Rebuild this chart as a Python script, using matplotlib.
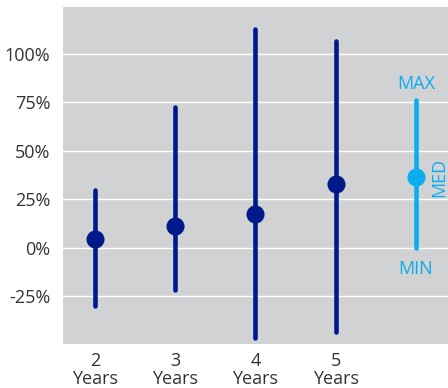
import matplotlib.pyplot as plt

plt.rcParams['font.family'] = ['Open Sans', 'DejaVu Sans']

# Range of returns by holding period (%)
periods = ['2\nYears', '3\nYears', '4\nYears', '5\nYears']
lows = [-30, -21.5, -46.5, -43.5]
highs = [30, 72.5, 112.5, 106.5]
medians = [4.5, 11, 17.5, 33]

# Key item drawn at the right
key_low, key_high, key_med = 0, 76, 36.5

navy = '#001A8C'
light = '#0AAEEF'
grey_bg = '#D1D2D4'
text_col = '#333333'

fig = plt.figure(figsize=(4.48, 3.88), dpi=100)
ax = fig.add_axes([0.1406, 0.1134, 0.8594, 0.8686])
ax.set_facecolor(grey_bg)

xs = list(range(len(periods)))
for x, lo, hi, med in zip(xs, lows, highs, medians):
    ax.plot([x, x], [lo, hi], color=navy, lw=3.3, solid_capstyle='round', zorder=3)
    ax.plot(x, med, 'o', color=navy, ms=12, zorder=4)

kx = len(periods)
ax.plot([kx, kx], [key_low, key_high], color=light, lw=3.3, solid_capstyle='round', zorder=3)
ax.plot(kx, key_med, 'o', color=light, ms=12, zorder=4)
ax.text(kx, key_high + 3.5, 'MAX', color=light, fontsize=13, ha='center', va='bottom')
ax.text(kx, key_low - 6.5, 'MIN', color=light, fontsize=13, ha='center', va='top')
ax.text(kx + 0.29, key_med, 'MED', color=light, fontsize=13, ha='center', va='center',
        rotation=90)

ax.set_xlim(-0.4, 4.4)
ax.set_ylim(-49.5, 124)
ax.set_yticks([-25, 0, 25, 50, 75, 100])
ax.set_yticklabels(['-25%', '0%', '25%', '50%', '75%', '100%'])
ax.set_xticks(xs)
ax.set_xticklabels(periods, linespacing=1.0)
ax.tick_params(length=0, labelsize=13, colors=text_col)
ax.tick_params(axis='y', pad=9)
ax.tick_params(axis='x', pad=6)
ax.grid(axis='y', color='white', lw=1.0)
ax.set_axisbelow(True)
for s in ax.spines.values():
    s.set_visible(False)

fig.savefig('out.png', dpi=100)
